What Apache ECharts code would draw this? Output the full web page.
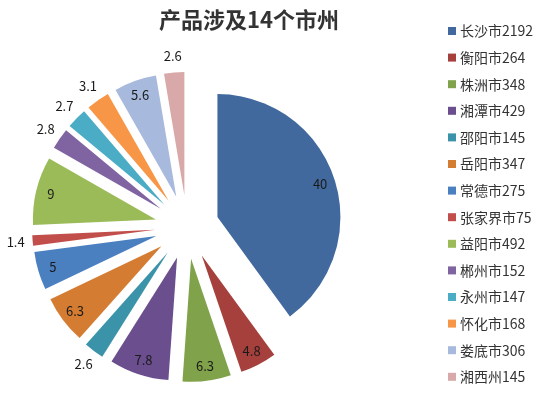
<!doctype html>
<html lang="zh">
<head>
    <meta charset="UTF-8">
    <title>产品涉及14个市州</title>
    <style>
        html, body { margin: 0; padding: 0; background: #fff; }
        #main { width: 550px; height: 397px; }
    </style>
</head>
<body>
    <div id="main"></div>
    <script src="https://cdn.jsdelivr.net/npm/echarts@6/dist/echarts.min.js"></script>
    <script>
    var cities = ['长沙市', '衡阳市', '株洲市', '湘潭市', '邵阳市', '岳阳市', '常德市',
                  '张家界市', '益阳市', '郴州市', '永州市', '怀化市', '娄底市', '湘西州'];
    var counts = [2192, 264, 348, 429, 145, 347, 275, 75, 492, 152, 147, 168, 306, 145];
    var colors = ['#41699D', '#A5403D', '#80A24A', '#6A4E8D', '#3B93A9', '#D47C32', '#4A7FC0',
                  '#C24E4B', '#9BBB59', '#8064A2', '#4BACC6', '#F79646', '#A7B9DC', '#D9A8A8'];

    var total = counts.reduce(function (a, b) { return a + b; }, 0);
    function pct(v) { return +(v / total * 100).toFixed(1); }

    var center = [187, 227];
    var offset = 32;
    var font = '"Noto Sans CJK SC", "Noto Sans", sans-serif';

    // main slices
    var pieData = cities.map(function (c, i) {
        return { name: c, value: counts[i], selected: true, itemStyle: { color: colors[i] } };
    });

    // transparent copies only used to place the percent labels (inside / just outside)
    function labelData(outside) {
        return cities.map(function (c, i) {
            var small = pct(counts[i]) < 4;
            return {
                name: c, value: counts[i], selected: true,
                label: { show: small === outside }
            };
        });
    }
    function labelSeries(r, outside) {
        return {
            type: 'pie',
            center: center,
            radius: [0, r],
            startAngle: 90,
            silent: true,
            selectedMode: 'multiple',
            selectedOffset: offset,
            animation: false,
            itemStyle: { color: 'rgba(0,0,0,0)', borderWidth: 0 },
            label: {
                position: 'inside',
                color: '#1a1a1a',
                fontSize: 13,
                fontFamily: font,
                formatter: function (p) { return pct(p.value); }
            },
            labelLine: { show: false },
            emphasis: { disabled: true },
            data: labelData(outside)
        };
    }

    var myChart = echarts.init(document.getElementById('main'));
    var option = {
        animation: false,
        title: {
            text: '产品涉及14个市州',
            left: 244,
            textAlign: 'center',
            top: 4,
            textStyle: { fontSize: 22, fontWeight: 'bold', color: '#333', fontFamily: font }
        },
        legend: {
            orient: 'vertical',
            left: 448,
            top: 24,
            padding: 0,
            itemWidth: 8,
            itemHeight: 8,
            itemGap: 12.6,
            icon: 'rect',
            selectedMode: false,
            data: cities,
            formatter: function (name) {
                return name + counts[cities.indexOf(name)];
            },
            textStyle: { fontSize: 14, lineHeight: 14, color: '#333', fontFamily: font, padding: [0, 0, 0, -1] }
        },
        series: [{
            type: 'pie',
            center: center,
            radius: [0, 123],
            startAngle: 90,
            selectedMode: 'multiple',
            selectedOffset: offset,
            label: { show: false },
            labelLine: { show: false },
            itemStyle: { borderWidth: 0 },
            emphasis: { disabled: true },
            data: pieData
        },
        labelSeries(210, false),
        labelSeries(274, true)]
    };
    myChart.setOption(option);
    </script>
</body>
</html>
